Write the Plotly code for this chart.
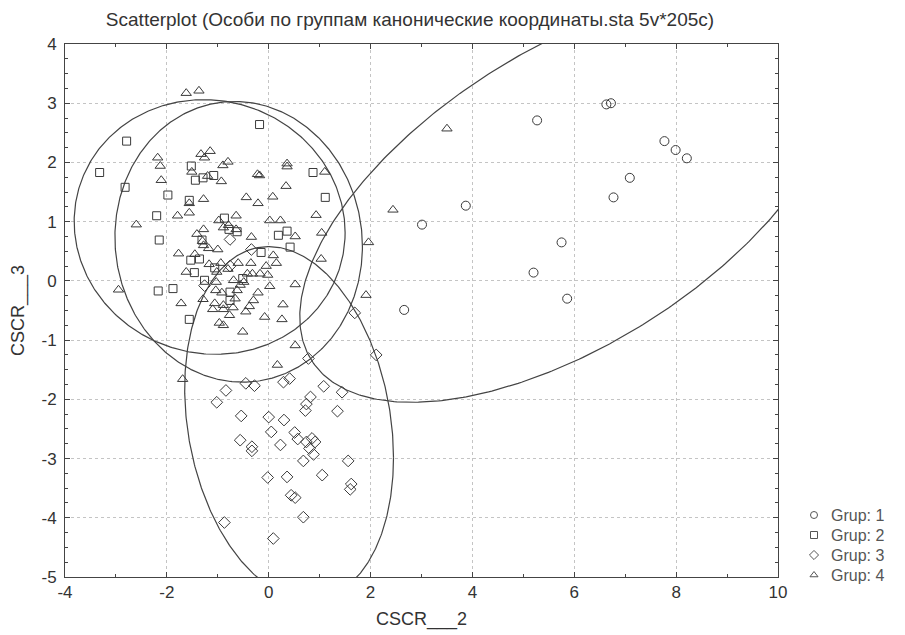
import plotly.graph_objects as go
import numpy as np

# ---------------- data ----------------
g1_x = [5.27, 6.63, 6.72, 7.77, 7.99, 8.21, 7.09, 6.77, 3.87, 3.01, 5.75, 5.20, 5.86, 2.66]
g1_y = [2.71, 2.98, 3.00, 2.36, 2.21, 2.07, 1.74, 1.41, 1.27, 0.95, 0.65, 0.14, -0.30, -0.49]

g2_x = [-2.79, -3.32, -2.82, -1.98, -1.52, -1.44, -1.29, -1.08, -1.56, -2.20, -2.15, -0.18,
        -2.17, -1.88, -1.56, 0.19, 0.36, 0.42, 0.87, 1.11, -0.87, -0.78, -0.62, -1.31,
        -1.53, -1.36, -1.06, -1.46, -1.26, -0.76, -0.51, -0.15, -0.76]
g2_y = [2.36, 1.83, 1.58, 1.45, 1.94, 1.70, 1.74, 1.78, 1.36, 1.10, 0.69, 2.64,
        -0.17, -0.13, -0.65, 0.77, 0.84, 0.57, 1.83, 1.41, 1.06, 0.87, 0.83, 0.69,
        0.35, 0.37, 0.22, 0.14, 0.01, -0.19, 0.04, 0.48, -0.33]

g3_x = [-0.76, -0.34, -0.76, -1.26, 1.69, 2.11, 0.78,
        -0.45, -0.28, -0.84, -1.02, 0.29, 0.41, 1.08, 1.44, 0.82, 0.74, 0.72, 1.35,
        -0.54, 0.00, 0.30, 0.05, 0.51, 0.57, -0.56, -0.33, -0.33, 0.23, 0.74, 0.85,
        0.91, 0.80, 0.88, 0.68, 1.56, -0.02, 0.36, 1.05, 1.62, 1.60, 0.44, 0.52,
        0.68, -0.87, 0.09]
g3_y = [0.70, 0.53, 0.25, -0.08, -0.54, -1.25, -1.31,
        -1.73, -1.77, -1.85, -2.05, -1.71, -1.65, -1.78, -1.88, -1.96, -2.08, -2.19, -2.20,
        -2.28, -2.30, -2.35, -2.55, -2.56, -2.67, -2.69, -2.80, -2.87, -2.77, -2.72, -2.66,
        -2.72, -2.83, -2.93, -3.04, -3.04, -3.32, -3.31, -3.28, -3.43, -3.52, -3.62, -3.66,
        -3.99, -4.08, -4.35]

g4_x = [3.50, 2.44, 1.96, 1.91, 1.03, 1.04, 0.93, 1.10, 0.36, 0.36, 0.34, 0.52, 0.52, 0.28,
        0.26, 0.52,
        -1.62, -1.37, -2.18, -2.13, -2.11, -1.33, -1.15, -1.26, -0.90, -0.80, -0.93, -1.20,
        -1.51, -1.28, -1.56, -1.56, -1.79, -2.60, -2.95, -0.44, -0.21, -0.18, -0.22, 0.08,
        -0.64, -0.98, -0.89, -0.64, 0.02, 0.23, -1.41, -1.28, -1.28, -1.18, -1.00, -0.34,
        -1.77, -1.17, -0.94, -1.62, -1.02, -1.03, -0.92, -0.69, -0.56, -0.42, -0.32, -0.17,
        -0.02, 0.02, -0.05, 0.09, 0.15, -0.21, -0.30, -0.38, -0.45, -0.66, -0.89, -1.06,
        -1.10, -0.89, -0.77, -0.97, -0.89, -0.51, -0.08, -1.72, -1.29, -1.69, 0.17,
        -0.79, -0.62, -1.30, -1.04, -0.49, -0.80, -0.60, -1.45, -0.35, -0.70]
g4_y = [2.57, 1.20, 0.65, -0.24, 0.37, 0.81, 1.11, 1.84, 1.98, 1.93, 1.60, -0.06, -1.09, -0.40,
        -0.65, 0.75,
        3.17, 3.21, 2.08, 1.94, 1.70, 2.14, 2.19, 2.08, 1.95, 2.01, 1.68, 1.77,
        1.84, 1.38, 1.31, 1.15, 1.10, 0.95, -0.15, 1.41, 1.31, 1.78, 1.80, 1.42,
        1.10, 1.02, 0.90, 0.87, 1.02, 1.02, 0.79, 0.87, 0.60, 0.55, 0.53, 0.74,
        0.46, 0.28, 0.30, 0.15, 0.15, -0.02, -0.20, 0.01, -0.07, 0.12, 0.12, 0.12,
        0.10, -0.09, 0.25, 0.43, 0.30, -0.20, -0.33, -0.43, -0.52, -0.30, -0.41, -0.38,
        -0.48, -0.48, -0.58, -0.71, -0.75, -0.86, -0.61, -0.38, -0.31, -1.66, -1.42,
        0.94, -0.16, 0.67, -0.16, -0.02, 0.20, 0.30, 0.45, 0.30, -0.45]

groups = ["Grup: 1", "Grup: 2", "Grup: 3", "Grup: 4"]
symbols = ["circle-open", "square-open", "diamond-open", "triangle-up-open"]

# prediction ellipses: centre, half-extent along x and y, correlation
ell_cx = [5.91, -1.16, 0.40, -0.59]
ell_cy = [1.42, 0.91, -2.40, 0.66]
ell_sx = [5.30, 2.66, 2.05, 2.43]
ell_sy = [3.47, 2.15, 2.98, 2.37]
ell_r = [0.585, -0.044, -0.196, -0.033]

x_tick_vals = [-4, -2, 0, 2, 4, 6, 8, 10]
x_tick_text = ["-4", "-2", "0", "2", "4", "6", "8", "10"]
y_tick_vals = [4, 3, 2, 1, 0, -1, -2, -3, -4, -5]
y_tick_text = ["4", "3", "2", "1", "0", "-1", "-2", "-3", "-4", "-5"]

# ---------------- layout constants (pixels) ----------------
W, H = 905, 635
PL, PR, PT, PB = 65, 778, 44, 577          # plot frame
LEG_X0, LEG_X1, LEG_Y0, LEG_Y1 = 790, 905, 500, 600   # manual legend box
LEG_MARK_X, LEG_TEXT_X, LEG_ROW0, LEG_DY = 814, 830, 515, 20.0

INK = "#3a3a3a"
FONT = "Liberation Sans, Arial, sans-serif"
fig = go.Figure()

t = np.linspace(0, 2 * np.pi, 500)
for cx, cy, sx, sy, r in zip(ell_cx, ell_cy, ell_sx, ell_sy, ell_r):
    ex = cx + sx * np.cos(t)
    ey = cy + sy * (r * np.cos(t) + np.sqrt(1 - r * r) * np.sin(t))
    fig.add_trace(go.Scatter(x=ex, y=ey, mode="lines", showlegend=False, hoverinfo="skip",
                             line=dict(color="#444444", width=1.2)))

data = [(g1_x, g1_y), (g2_x, g2_y), (g3_x, g3_y), (g4_x, g4_y)]
sizes = [9, 8, 9, 9]
for (xs, ys), sym, sz, name in zip(data, symbols, sizes, groups):
    fig.add_trace(go.Scatter(x=xs, y=ys, mode="markers", name=name, showlegend=False,
                             marker=dict(symbol=sym, size=sz, color=INK,
                                         line=dict(width=1, color=INK))))

# manual legend (compact rows like the original), drawn on its own pixel-unit axes
rows_y = [LEG_ROW0 + i * LEG_DY for i in range(len(groups))]
for sym, yy in zip(symbols, rows_y):
    fig.add_trace(go.Scatter(x=[LEG_MARK_X], y=[yy], mode="markers", xaxis="x2", yaxis="y2",
                             showlegend=False, hoverinfo="skip",
                             marker=dict(symbol=sym, size=7, color="#555555",
                                         line=dict(width=1, color="#555555"))))
for name, yy in zip(groups, rows_y):
    fig.add_annotation(x=LEG_TEXT_X, y=yy, xref="x2", yref="y2", text=name, showarrow=False,
                       xanchor="left", yanchor="middle", borderpad=0,
                       font=dict(family=FONT, size=16, color="#555555"))

axis_common = dict(
    showline=True, linecolor="#444444", linewidth=1, mirror="allticks",
    ticks="inside", ticklen=5, tickcolor="#444444",
    showgrid=True, gridcolor="#c4c4c4", griddash="dot", gridwidth=1,
    zeroline=False, tickfont=dict(size=17, color="#333333"),
)

fig.update_layout(
    xaxis=dict(domain=[PL / W, PR / W], range=[-4, 10], tickmode="array",
               tickvals=x_tick_vals, ticktext=x_tick_text,
               minor=dict(tickmode="linear", tick0=-4, dtick=1, ticks="inside", ticklen=3,
                          tickcolor="#444444", showgrid=False),
               title=dict(text="CSCR___2", font=dict(size=18, color="#333333"), standoff=10),
               **axis_common),
    yaxis=dict(domain=[(H - PB) / H, (H - PT) / H], range=[-5, 4], tickmode="array",
               tickvals=y_tick_vals, ticktext=y_tick_text, ticklabelstandoff=4,
               minor=dict(tickmode="linear", tick0=-5, dtick=0.25, ticks="inside", ticklen=3,
                          tickcolor="#444444", showgrid=False),
               title=dict(text="CSCR___3", font=dict(size=18, color="#333333"), standoff=12),
               **axis_common),
    xaxis2=dict(domain=[LEG_X0 / W, LEG_X1 / W], range=[LEG_X0, LEG_X1], visible=False,
                anchor="y2", fixedrange=True),
    yaxis2=dict(domain=[(H - LEG_Y1) / H, (H - LEG_Y0) / H], range=[LEG_Y1, LEG_Y0],
                visible=False, anchor="x2", fixedrange=True),
    width=W, height=H,
    margin=dict(l=0, r=0, t=0, b=0, autoexpand=False),
    plot_bgcolor="white", paper_bgcolor="white",
    font=dict(family=FONT, color="#333333"),
    showlegend=False,
    title=dict(text="Scatterplot (Особи по группам канонические координаты.sta 5v*205c)",
               xref="container", x=410 / W, xanchor="center",
               yref="container", y=1 - 19 / H, yanchor="middle",
               font=dict(size=19, color="#333333")),
)

fig.write_html("out.html")
